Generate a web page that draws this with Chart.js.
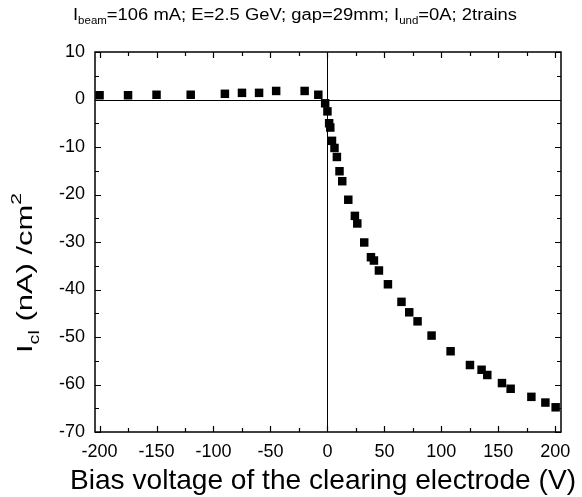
<!DOCTYPE html>
<html>
<head>
<meta charset="utf-8">
<script src="https://cdn.jsdelivr.net/npm/chart.js@4/dist/chart.umd.min.js"></script>
<style>
  body { margin: 0; background: #fff; }
  canvas { display: block; }
</style>
</head>
<body>
<canvas id="chart" width="582" height="497"></canvas>
<script>
// Bias voltage (V) and clearing electrode current density (nA/cm^2)
const biasVoltage = [
  -200, -175, -150, -120, -90, -75, -60, -45, -20, -8, -2, 0,
  1.5, 2.5, 4, 6.2, 8.3, 10.6, 13, 18.3, 24.1, 26.2, 32.3,
  38.2, 40.8, 45.2, 53.1, 65, 71.8, 79.1, 91.4, 108.1, 125.1,
  135.3, 140.3, 153.2, 160.8, 179, 191.3, 200.3
];
const currentDensity = [
  0.9, 0.9, 1.0, 1.0, 1.2, 1.4, 1.4, 1.8, 1.8, 1.0, -0.8, -2.5,
  -5.0, -5.9, -8.7, -10.2, -12.1, -15.1, -17.2, -21.1, -24.5, -26.1, -30.1,
  -33.2, -33.9, -36.0, -38.9, -42.6, -44.8, -46.7, -49.7, -53.0, -55.9,
  -56.9, -58.0, -59.7, -60.9, -62.6, -63.8, -64.8
];
const xTicks = [-200, -150, -100, -50, 0, 50, 100, 150, 200];
const xMinorTicks = [-175, -125, -75, -25, 25, 75, 125, 175];
const yTicks = [-70, -60, -50, -40, -30, -20, -10, 0, 10];
const yMinorTicks = [-65, -55, -45, -35, -25, -15, -5, 5];

const FONT = "'Liberation Sans', Arial, sans-serif";

// draws text pieces (with sub/superscripts) stretched to a target width
function drawRich(ctx, parts, x, y, width) {
  let natural = 0;
  parts.forEach((p) => {
    ctx.font = p.size + "px " + FONT;
    natural += ctx.measureText(p.t).width;
  });
  ctx.save();
  ctx.translate(x, y);
  ctx.scale(width / natural, 1);
  let cx = 0;
  parts.forEach((p) => {
    ctx.font = p.size + "px " + FONT;
    ctx.fillText(p.t, cx, p.dy || 0);
    cx += ctx.measureText(p.t).width;
  });
  ctx.restore();
}

const framePlugin = {
  id: "frame",
  beforeDatasetsDraw(chart) {
    const { ctx, chartArea: a, scales } = chart;
    const xs = scales.x, ys = scales.y;
    ctx.save();
    ctx.strokeStyle = "#000";
    // zero lines
    ctx.lineWidth = 1;
    const y0 = Math.round(ys.getPixelForValue(0)) + 0.5;
    const x0 = Math.round(xs.getPixelForValue(0)) + 0.5;
    ctx.beginPath();
    ctx.moveTo(a.left, y0); ctx.lineTo(a.right, y0);
    ctx.moveTo(x0, a.top); ctx.lineTo(x0, a.bottom);
    ctx.stroke();
    // inward ticks on all four sides
    ctx.lineWidth = 1.2;
    ctx.beginPath();
    const tickX = (vals, len) => vals.forEach((v) => {
      const px = Math.round(xs.getPixelForValue(v)) + 0.5;
      ctx.moveTo(px, a.bottom); ctx.lineTo(px, a.bottom - len);
      ctx.moveTo(px, a.top); ctx.lineTo(px, a.top + len);
    });
    const tickY = (vals, len) => vals.forEach((v) => {
      const py = Math.round(ys.getPixelForValue(v)) + 0.5;
      ctx.moveTo(a.left, py); ctx.lineTo(a.left + len, py);
      ctx.moveTo(a.right, py); ctx.lineTo(a.right - len, py);
    });
    tickX(xTicks, 6); tickX(xMinorTicks, 4);
    tickY(yTicks, 6); tickY(yMinorTicks, 4);
    ctx.stroke();
    // frame
    ctx.lineWidth = 1.5;
    ctx.strokeRect(a.left, a.top, a.right - a.left, a.bottom - a.top);
    ctx.restore();
  },
  afterDraw(chart) {
    const { ctx } = chart;
    ctx.save();
    ctx.fillStyle = "#000";
    ctx.textBaseline = "alphabetic";
    ctx.textAlign = "left";
    // top title
    drawRich(ctx, [
      { t: "I", size: 16 },
      { t: "beam", size: 10, dy: 4 },
      { t: "=106 mA; E=2.5 GeV; gap=29mm; I", size: 16 },
      { t: "und", size: 10, dy: 4 },
      { t: "=0A; 2trains", size: 16 },
    ], 73, 20, 444);
    // x axis title
    drawRich(ctx, [
      { t: "Bias voltage of the clearing electrode (V)", size: 28 },
    ], 70, 489, 506);
    // y axis title (rotated)
    ctx.translate(32, 353);
    ctx.rotate(-Math.PI / 2);
    drawRich(ctx, [
      { t: "I", size: 22 },
      { t: "cl", size: 14, dy: 7 },
      { t: " (nA) /cm", size: 22 },
      { t: "2", size: 15, dy: -11 },
    ], 0, 0, 160);
    ctx.restore();
  },
};

new Chart(document.getElementById("chart").getContext("2d"), {
  type: "scatter",
  data: {
    datasets: [
      {
        data: biasVoltage.map((v, i) => ({ x: v, y: currentDensity[i] })),
        pointStyle: "rect",
        pointRadius: 6,
        backgroundColor: "#000",
        borderWidth: 0,
      },
    ],
  },
  options: {
    responsive: false,
    animation: false,
    layout: { padding: { top: 52, right: 21, left: 0, bottom: 0 } },
    plugins: { legend: { display: false }, tooltip: { enabled: false } },
    scales: {
      x: {
        type: "linear",
        min: -204,
        max: 205,
        grid: { display: false, drawTicks: false },
        border: { display: false },
        afterBuildTicks: (s) => { s.ticks = xTicks.map((v) => ({ value: v })); },
        afterFit: (s) => { s.height = 65; },
        ticks: { color: "#000", font: { family: FONT, size: 18 }, padding: 9, maxRotation: 0 },
      },
      y: {
        min: -70,
        max: 10,
        grid: { display: false, drawTicks: false },
        border: { display: false },
        afterBuildTicks: (s) => { s.ticks = yTicks.map((v) => ({ value: v })); },
        afterFit: (s) => { s.width = 95; },
        ticks: { color: "#000", font: { family: FONT, size: 18 }, padding: 10 },
      },
    },
  },
  plugins: [framePlugin],
});
</script>
</body>
</html>
